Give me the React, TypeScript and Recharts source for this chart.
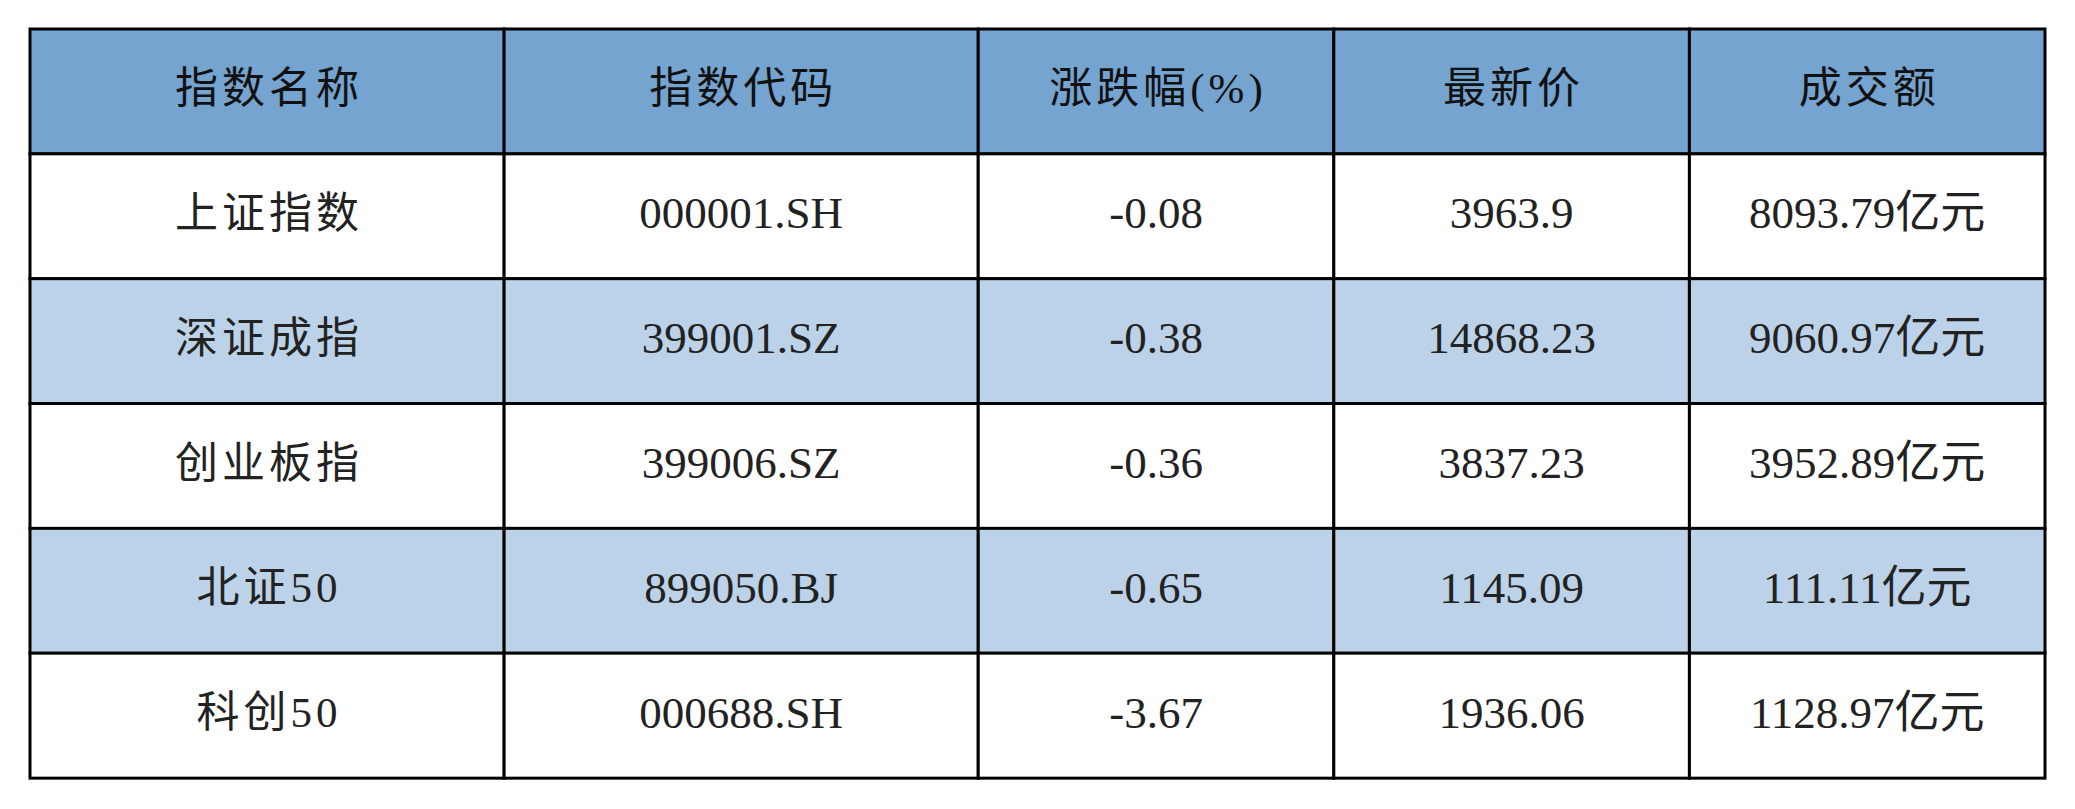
import { Bar, BarChart, XAxis, YAxis } from "recharts";

// table content
const headers = ["指数名称", "指数代码", "涨跌幅(%)", "最新价", "成交额"];
const indexNames = ["上证指数", "深证成指", "创业板指", "北证50", "科创50"];
const indexCodes = ["000001.SH", "399001.SZ", "399006.SZ", "899050.BJ", "000688.SH"];
const changePct = [-0.08, -0.38, -0.36, -0.65, -3.67];
const latestPrice = ["3963.9", "14868.23", "3837.23", "1145.09", "1936.06"];
const turnover = [8093.79, 9060.97, 3952.89, 111.11, 1128.97];

// layout
const colWeights = [4, 4, 3, 3, 3];
const HEADER_FILL = "#74a4cf";
const STRIPE_FILL = "#bbd2e8";
const FONT = '"Liberation Serif", "Noto Sans CJK SC", serif';

const rows = [
  { key: "header", cells: headers },
  ...indexNames.map((name, i) => ({
    key: name,
    cells: [
      name,
      indexCodes[i],
      changePct[i].toFixed(2),
      latestPrice[i],
      turnover[i].toFixed(2) + "亿元",
    ],
  })),
].map((r) => {
  const o: any = { ...r };
  colWeights.forEach((w, c) => (o["w" + c] = w));
  return o;
});

const cellShape = (col: number) => (props: any) => {
  const { x, y, width, height, index } = props;
  const row = rows[index] ?? props.payload;
  const fill =
    index === 0 ? HEADER_FILL : index % 2 === 0 ? STRIPE_FILL : "#ffffff";
  const text = row.cells[col];
  const spaced = index === 0 || col === 0;
  return (
    <g>
      <rect
        x={x}
        y={y}
        width={width}
        height={height}
        fill={fill}
        stroke="#000"
        strokeWidth={3}
      />
      <text
        x={x + width / 2 + (spaced ? 2 : 0)}
        y={y + height / 2 - 3}
        textAnchor="middle"
        dominantBaseline="central"
        fontFamily={FONT}
        fontSize={index === 0 || col === 0 ? 43 : 45}
        letterSpacing={spaced ? 4 : 0}
        fill={index === 0 ? "#111" : "#222"}
      >
        {text}
      </text>
    </g>
  );
};

export default function App() {
  return (
    <div style={{ width: 2075, height: 809, background: "#fff" }}>
      <style>{"body{margin:0}"}</style>
      <BarChart
        width={2075}
        height={809}
        data={rows}
        layout="vertical"
        barCategoryGap={0}
        barGap={0}
        margin={{ top: 29, right: 30, bottom: 31, left: 30 }}
      >
        <XAxis type="number" domain={[0, 17]} hide />
        <YAxis type="category" dataKey="key" hide />
        {colWeights.map((_, c) => (
          <Bar
            key={c}
            dataKey={"w" + c}
            stackId="t"
            shape={cellShape(c)}
            isAnimationActive={false}
          />
        ))}
      </BarChart>
    </div>
  );
}
